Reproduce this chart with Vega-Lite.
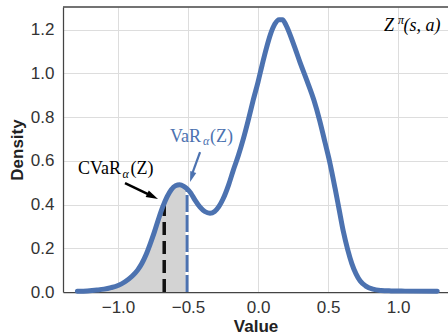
{
  "$schema": "https://vega.github.io/schema/vega-lite/v6.json",
  "width": 385,
  "height": 285,
  "autosize": {"type": "none"},
  "padding": {"left": 63, "top": 7, "right": 0, "bottom": 42},
  "background": "white",
  "config": {
    "view": {"stroke": null},
    "axis": {
      "labelFont": "Liberation Sans",
      "labelFontSize": 17,
      "labelColor": "#333333",
      "titleFont": "Liberation Sans",
      "titleFontSize": 17,
      "titleFontWeight": "bold",
      "titleColor": "#222222",
      "gridColor": "#dddddd",
      "gridWidth": 1,
      "domainColor": "#444444",
      "domainWidth": 1.25,
      "ticks": false
    }
  },
  "datasets": {
    "kde": [
      {"x": -1.29, "y": 0.003}, {"x": -1.22, "y": 0.005}, {"x": -1.15, "y": 0.009},
      {"x": -1.10, "y": 0.013}, {"x": -1.05, "y": 0.02}, {"x": -1.00, "y": 0.03},
      {"x": -0.95, "y": 0.047}, {"x": -0.90, "y": 0.072}, {"x": -0.86, "y": 0.1},
      {"x": -0.83, "y": 0.13}, {"x": -0.80, "y": 0.17}, {"x": -0.77, "y": 0.22},
      {"x": -0.74, "y": 0.275}, {"x": -0.71, "y": 0.335}, {"x": -0.68, "y": 0.39},
      {"x": -0.65, "y": 0.435}, {"x": -0.62, "y": 0.468}, {"x": -0.59, "y": 0.486},
      {"x": -0.56, "y": 0.49}, {"x": -0.53, "y": 0.483}, {"x": -0.507, "y": 0.472},
      {"x": -0.48, "y": 0.452}, {"x": -0.45, "y": 0.42}, {"x": -0.414, "y": 0.388},
      {"x": -0.38, "y": 0.368}, {"x": -0.343, "y": 0.36}, {"x": -0.31, "y": 0.368},
      {"x": -0.28, "y": 0.39}, {"x": -0.25, "y": 0.425}, {"x": -0.21, "y": 0.49},
      {"x": -0.176, "y": 0.558}, {"x": -0.14, "y": 0.625}, {"x": -0.105, "y": 0.7},
      {"x": -0.07, "y": 0.785}, {"x": -0.034, "y": 0.878}, {"x": 0.0, "y": 0.96},
      {"x": 0.03, "y": 1.04}, {"x": 0.06, "y": 1.115}, {"x": 0.09, "y": 1.18},
      {"x": 0.12, "y": 1.225}, {"x": 0.15, "y": 1.245}, {"x": 0.175, "y": 1.245},
      {"x": 0.20, "y": 1.22}, {"x": 0.25, "y": 1.14}, {"x": 0.30, "y": 1.05},
      {"x": 0.35, "y": 0.965}, {"x": 0.40, "y": 0.875}, {"x": 0.44, "y": 0.785},
      {"x": 0.48, "y": 0.68}, {"x": 0.51, "y": 0.6}, {"x": 0.55, "y": 0.475},
      {"x": 0.58, "y": 0.375}, {"x": 0.61, "y": 0.275}, {"x": 0.64, "y": 0.195},
      {"x": 0.67, "y": 0.13}, {"x": 0.70, "y": 0.083}, {"x": 0.73, "y": 0.05},
      {"x": 0.77, "y": 0.027}, {"x": 0.82, "y": 0.013}, {"x": 0.88, "y": 0.007},
      {"x": 0.95, "y": 0.005}, {"x": 1.05, "y": 0.004}, {"x": 1.28, "y": 0.003}
    ]
  },
  "layer": [
    {
      "data": {"name": "kde"},
      "transform": [{"filter": "datum.x <= -0.507"}],
      "mark": {"type": "area", "interpolate": "monotone", "color": "#d3d3d3", "opacity": 1},
      "encoding": {
        "x": {"field": "x", "type": "quantitative", "title": "Value", "scale": {"domain": [-1.393, 1.357], "nice": false, "zero": false},
              "axis": {"title": "Value", "values": [-1, -0.5, 0, 0.5, 1], "format": ".1f", "labelPadding": 7, "titlePadding": 3}},
        "y": {"field": "y", "type": "quantitative", "title": "Density", "scale": {"domain": [0, 1.303], "nice": false, "zero": false},
              "axis": {"title": "Density", "values": [0, 0.2, 0.4, 0.6, 0.8, 1.0, 1.2], "format": ".1f", "labelPadding": 9, "titlePadding": 4}}
      }
    },
    {
      "data": {"values": [{"x": -0.507, "y": 0, "y2": 0.472}]},
      "mark": {"type": "rule", "color": "white", "strokeWidth": 3},
      "encoding": {
        "x": {"field": "x", "type": "quantitative", "title": "Value"},
        "y": {"field": "y", "type": "quantitative", "title": "Density"},
        "y2": {"field": "y2"}
      }
    },
    {
      "data": {"values": [{"x": -0.507, "y": 0, "y2": 0.472}]},
      "mark": {"type": "rule", "color": "#4C72B0", "strokeWidth": 3, "strokeDash": [17, 3]},
      "encoding": {
        "x": {"field": "x", "type": "quantitative", "title": "Value"},
        "y": {"field": "y", "type": "quantitative", "title": "Density"},
        "y2": {"field": "y2"}
      }
    },
    {
      "data": {"values": [{"x": -0.67, "y": 0, "y2": 0.405}]},
      "mark": {"type": "rule", "color": "#111111", "strokeWidth": 3.5, "strokeDash": [13, 6]},
      "encoding": {
        "x": {"field": "x", "type": "quantitative", "title": "Value"},
        "y": {"field": "y", "type": "quantitative", "title": "Density"},
        "y2": {"field": "y2"}
      }
    },
    {
      "data": {"name": "kde"},
      "mark": {"type": "line", "interpolate": "monotone", "color": "#4C72B0", "strokeWidth": 5, "strokeCap": "round", "strokeJoin": "round"},
      "encoding": {
        "x": {"field": "x", "type": "quantitative", "title": "Value"},
        "y": {"field": "y", "type": "quantitative", "title": "Density"}
      }
    },
    {
      "data": {"values": [{"y": 1.303}]},
      "mark": {"type": "rule", "color": "#444444", "strokeWidth": 1.5},
      "encoding": {
        "y": {"field": "y", "type": "quantitative", "title": "Density"}
      }
    },
    {
      "data": {"values": [{"x": -0.95, "y": 0.498, "x2": -0.771, "y2": 0.443}]},
      "mark": {"type": "rule", "color": "#000000", "strokeWidth": 2.5},
      "encoding": {
        "x": {"field": "x", "type": "quantitative", "title": "Value"},
        "y": {"field": "y", "type": "quantitative", "title": "Density"},
        "x2": {"field": "x2"}, "y2": {"field": "y2"}
      }
    },
    {
      "data": {"values": [{"x": -0.753, "y": 0.437}]},
      "mark": {"type": "point", "shape": "M0,-1L0.6,1L-0.6,1Z", "filled": true, "color": "#000000", "opacity": 1, "size": 144, "angle": 116},
      "encoding": {
        "x": {"field": "x", "type": "quantitative", "title": "Value"},
        "y": {"field": "y", "type": "quantitative", "title": "Density"}
      }
    },
    {
      "data": {"values": [{"x": -0.414, "y": 0.64, "x2": -0.468, "y2": 0.545}]},
      "mark": {"type": "rule", "color": "#4C72B0", "strokeWidth": 2.2},
      "encoding": {
        "x": {"field": "x", "type": "quantitative", "title": "Value"},
        "y": {"field": "y", "type": "quantitative", "title": "Density"},
        "x2": {"field": "x2"}, "y2": {"field": "y2"}
      }
    },
    {
      "data": {"values": [{"x": -0.474, "y": 0.526}]},
      "mark": {"type": "point", "shape": "M0,-1L0.6,1L-0.6,1Z", "filled": true, "color": "#4C72B0", "opacity": 1, "size": 110, "angle": 198},
      "encoding": {
        "x": {"field": "x", "type": "quantitative", "title": "Value"},
        "y": {"field": "y", "type": "quantitative", "title": "Density"}
      }
    },
    {
      "data": {"values": [{"x": -1.286, "y": 0.539, "t": "CVaR"}, {"x": -0.911, "y": 0.539, "t": "(Z)"}]},
      "mark": {"type": "text", "font": "Liberation Serif", "fontSize": 18, "color": "#000000", "align": "left", "baseline": "alphabetic"},
      "encoding": {
        "x": {"field": "x", "type": "quantitative", "title": "Value"},
        "y": {"field": "y", "type": "quantitative", "title": "Density"},
        "text": {"field": "t"}
      }
    },
    {
      "data": {"values": [{"x": -0.968, "y": 0.521, "t": "α"}]},
      "mark": {"type": "text", "font": "Liberation Serif", "fontSize": 12, "fontStyle": "italic", "color": "#000000", "align": "left", "baseline": "alphabetic"},
      "encoding": {
        "x": {"field": "x", "type": "quantitative", "title": "Value"},
        "y": {"field": "y", "type": "quantitative", "title": "Density"},
        "text": {"field": "t"}
      }
    },
    {
      "data": {"values": [{"x": -0.629, "y": 0.687, "t": "VaR"}, {"x": -0.343, "y": 0.687, "t": "(Z)"}]},
      "mark": {"type": "text", "font": "Liberation Serif", "fontSize": 18, "color": "#4C72B0", "align": "left", "baseline": "alphabetic"},
      "encoding": {
        "x": {"field": "x", "type": "quantitative", "title": "Value"},
        "y": {"field": "y", "type": "quantitative", "title": "Density"},
        "text": {"field": "t"}
      }
    },
    {
      "data": {"values": [{"x": -0.393, "y": 0.672, "t": "α"}]},
      "mark": {"type": "text", "font": "Liberation Serif", "fontSize": 12, "fontStyle": "italic", "color": "#4C72B0", "align": "left", "baseline": "alphabetic"},
      "encoding": {
        "x": {"field": "x", "type": "quantitative", "title": "Value"},
        "y": {"field": "y", "type": "quantitative", "title": "Density"},
        "text": {"field": "t"}
      }
    },
    {
      "data": {"values": [{"x": 0.9, "y": 1.195, "t": "Z"}, {"x": 1.04, "y": 1.195, "t": "(s,  a)"}]},
      "mark": {"type": "text", "font": "Liberation Serif", "fontSize": 18, "fontStyle": "italic", "color": "#000000", "align": "left", "baseline": "alphabetic"},
      "encoding": {
        "x": {"field": "x", "type": "quantitative", "title": "Value"},
        "y": {"field": "y", "type": "quantitative", "title": "Density"},
        "text": {"field": "t"}
      }
    },
    {
      "data": {"values": [{"x": 1.0, "y": 1.225, "t": "π"}]},
      "mark": {"type": "text", "font": "Liberation Serif", "fontSize": 12, "fontStyle": "italic", "color": "#000000", "align": "left", "baseline": "alphabetic"},
      "encoding": {
        "x": {"field": "x", "type": "quantitative", "title": "Value"},
        "y": {"field": "y", "type": "quantitative", "title": "Density"},
        "text": {"field": "t"}
      }
    }
  ]
}
